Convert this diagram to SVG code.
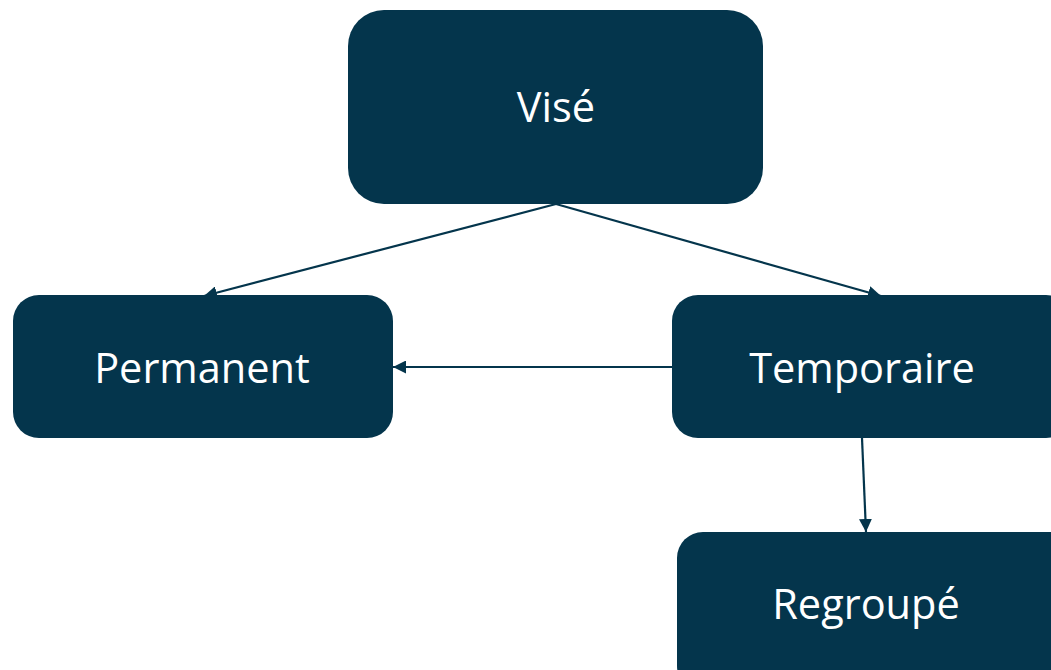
<svg xmlns="http://www.w3.org/2000/svg" width="1051" height="670" viewBox="0 0 1051 670">
<style>
.box{fill:#04354c}
.lbl{fill:#ffffff;font-family:"Open Sans","Noto Sans",sans-serif;font-size:41.5px;text-anchor:middle;dominant-baseline:central}
.edge{stroke:#04354c;stroke-width:2.2;fill:none;marker-end:url(#arr)}
</style>
<defs>
<marker id="arr" viewBox="0 0 10 10" refX="10" refY="5" markerWidth="13" markerHeight="13" markerUnits="userSpaceOnUse" orient="auto">
<path d="M0,0 L10,5 L0,10 z" fill="#04354c"/>
</marker>
</defs>
<rect width="1051" height="670" fill="#ffffff"/>
<g id="connectors">
<line class="edge" x1="556" y1="204" x2="204" y2="296"/>
<line class="edge" x1="556" y1="204" x2="881" y2="296"/>
<line class="edge" x1="672" y1="367" x2="393" y2="367"/>
<line class="edge" x1="862" y1="438" x2="866" y2="532"/>
</g>
<g id="vise">
<rect class="box" x="348" y="10" width="415" height="194" rx="36"/>
<text class="lbl" x="556" y="106">Visé</text>
</g>
<g id="permanent">
<rect class="box" x="13" y="295" width="380" height="143" rx="26"/>
<text class="lbl" x="202" y="367">Permanent</text>
</g>
<g id="temporaire">
<rect class="box" x="672" y="295" width="400" height="143" rx="26"/>
<text class="lbl" x="862" y="367">Temporaire</text>
</g>
<g id="regroupe">
<rect class="box" x="677" y="532" width="400" height="160" rx="26"/>
<text class="lbl" x="866" y="603">Regroupé</text>
</g>
</svg>
